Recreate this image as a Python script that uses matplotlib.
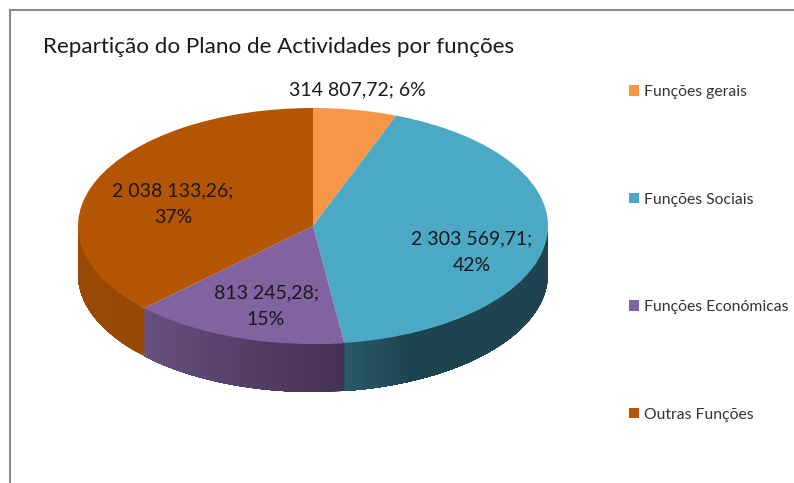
import numpy as np
import matplotlib
matplotlib.use("Agg")
import matplotlib.pyplot as plt
from matplotlib.patches import Patch

title = "Repartição do Plano de Actividades por funções"
categories = ["Funções gerais", "Funções Sociais", "Funções Económicas", "Outras Funções"]
values = [314807.72, 2303569.71, 813245.28, 2038133.26]
value_texts = ["314 807,72", "2 303 569,71", "813 245,28", "2 038 133,26"]
top_colors = ["#F79646", "#4BA9C5", "#8063A0", "#B45504"]
wall_right = ["#F79646", "#1E4450", "#443252", "#964805"]
wall_left = ["#F79646", "#2A5A68", "#685080", "#9A4A06"]
label_breaks = ["; ", ";\n", ";\n", ";\n"]
label_px = [(357.5, 89.5), (472, 252.5), (266, 306), (173, 204)]

W, H = 794, 483
CX, CY, A, B, DEPTH = 313.0, 226.0, 235.0, 118.0, 48.0
plt.rcParams["font.family"] = ["Lato", "DejaVu Sans"]

fig = plt.figure(figsize=(W / 100, H / 100), dpi=100, facecolor="white")
ax = fig.add_axes([(CX - A) / W, 1 - (CY + B) / H, 2 * A / W, 2 * B / H])

wedges, _ = ax.pie(values, colors=top_colors, startangle=90, counterclock=False,
                   center=(0, 0), radius=1, wedgeprops=dict(linewidth=0, zorder=5))
ax.set_aspect("auto")
ax.set_xlim(-1, 1)
ax.set_ylim(-1, 1)
for w in wedges:
    w.set_clip_on(False)

# extruded side wall: strips painted in order, each reaching the slice's far end
depth = DEPTH / B
fracs = np.cumsum([0] + values) / np.sum(values) * 360
for i in range(len(values)):
    a0, a1 = max(fracs[i], 90), min(fracs[i + 1], 270)
    if a1 <= a0:
        continue
    n = max(int(a1 - a0), 2)
    edges = np.linspace(a0, a1, n + 1)
    c0 = np.array(matplotlib.colors.to_rgb(wall_right[i]))
    c1 = np.array(matplotlib.colors.to_rgb(wall_left[i]))
    for j in range(n):
        t = np.radians(np.linspace(edges[j], a1, 80))
        x, y = np.sin(t), np.cos(t)
        f = j / max(n - 1, 1)
        if i == 1:
            f = max(0, (f - 0.8) * 5)
        col = c0 + (c1 - c0) * f
        ax.fill(np.r_[x, x[::-1]], np.r_[y, y[::-1] - depth], color=col, lw=0,
                zorder=3 + i / 10 + j / 10000, clip_on=False)

total = sum(values)
for i, (px, py) in enumerate(label_px):
    pct = round(values[i] / total * 100)
    fig.text(px / W, 1 - py / H, f"{value_texts[i]}{label_breaks[i]}{pct}%",
             ha="center", va="center", fontsize=14, color="#1a1a1a",
             linespacing=1.68, zorder=10)

fig.text(43 / W, 1 - 47 / H, title, ha="left", va="center", fontsize=16.15, color="#1a1a1a")

handles = [Patch(facecolor=c, edgecolor="none") for c in top_colors]
fig.legend(handles, categories, loc="upper left",
           bbox_to_anchor=(629 / W, 1 - 85 / H), frameon=False, fontsize=11.3,
           labelcolor="#333333", handlelength=0.64, handleheight=0.64,
           handletextpad=0.32, labelspacing=5.96, borderpad=0, borderaxespad=0)

frame = dict(color="#8a8a8a", lw=1.5, transform=fig.transFigure)
fig.add_artist(plt.Line2D([10 / W, 10 / W], [0, 1 - 10 / H], **frame))
fig.add_artist(plt.Line2D([10 / W, 1], [1 - 10 / H, 1 - 10 / H], **frame))

fig.savefig("out.png", dpi=100, facecolor="white")
